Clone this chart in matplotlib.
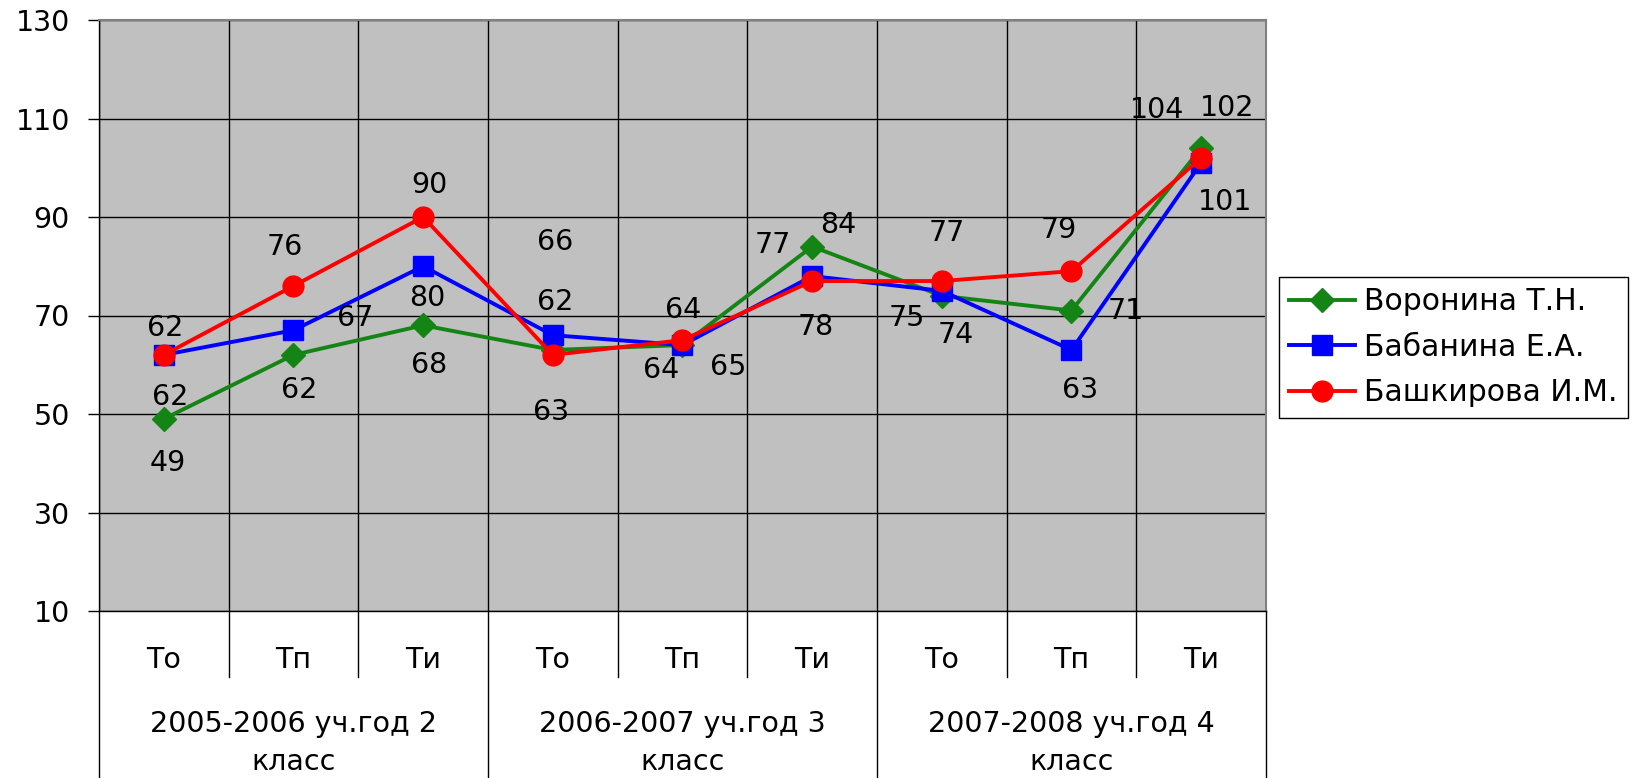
import matplotlib.pyplot as plt
import numpy as np

plt.rcParams['font.family'] = ['DejaVu Sans']

categories = ['То', 'Тп', 'Ти', 'То', 'Тп', 'Ти', 'То', 'Тп', 'Ти']
groups = ['2005-2006 уч.год 2\nкласс', '2006-2007 уч.год 3\nкласс', '2007-2008 уч.год 4\nкласс']
names = ['Воронина Т.Н.', 'Бабанина Е.А.', 'Башкирова И.М.']
voronina = [49, 62, 68, 63, 64, 84, 74, 71, 104]
babanina = [62, 67, 80, 66, 64, 78, 75, 63, 101]
bashkirova = [62, 76, 90, 62, 65, 77, 77, 79, 102]

# label placement (pixels, x right / y down) copied from the excel picture
off_v = [(4, 44), (6, 35), (6, 40), (-2, 62), (1, -35), (26, -22), (14, 39), (54, 0), (-44, -38)]
off_b = [(6, 42), (62, -12), (4, 32), (2, -93), (-21, 25), (4, 51), (-35, 27), (9, 40), (24, 39)]
off_r = [(1, -27), (-9, -39), (6, -32), (2, -53), (46, 27), (-39, -36), (5, -48), (-13, -41), (26, -50)]

fig = plt.figure(figsize=(16.4, 7.78), dpi=100)
ax = fig.add_axes([99/1640, 1-611/778, (1266-99)/1640, (611-20)/778])
ax.set_facecolor('#c0c0c0')

x = np.arange(len(categories))
series = [(voronina, '#148514', 'D', 12, off_v),
          (babanina, '#0000ff', 's', 15, off_b),
          (bashkirova, '#ff0000', 'o', 15, off_r)]
for (vals, col, mk, ms, offs), nm in zip(series, names):
    ax.plot(x, vals, color=col, lw=2.8, marker=mk, ms=ms, mec=col, mfc=col, label=nm, zorder=3)
    for xi, v, (dx, dy) in zip(x, vals, offs):
        ax.annotate(str(v), (xi, v), xytext=(dx, -dy), textcoords='offset pixels',
                    ha='center', va='center', fontsize=20.5, zorder=5)

ax.set_xlim(-0.5, len(categories) - 0.5)
ax.set_ylim(10, 130)
ax.set_yticks(np.arange(10, 131, 20))
ax.tick_params(axis='y', labelsize=20.5, length=8, width=1, pad=13, direction='out')
ax.set_xticks(x)
ax.set_xticklabels([])
ax.tick_params(axis='x', length=0)
ax.set_xticks(np.arange(-0.5, len(categories)), minor=True)
ax.tick_params(axis='x', which='minor', length=0)
ax.grid(True, which='minor', axis='x', color='black', lw=1)
ax.grid(True, which='major', axis='y', color='black', lw=1)
ax.set_axisbelow(True)
for s in ['top', 'right']:
    ax.spines[s].set_color('#808080')
    ax.spines[s].set_linewidth(1.5)
for s in ['left', 'bottom']:
    ax.spines[s].set_color('black')
    ax.spines[s].set_linewidth(1)

# two-level category axis below the plot
tr = ax.get_xaxis_transform()
for xi, c in zip(x, categories):
    ax.text(xi, -0.083, c, transform=tr, ha='center', va='center', fontsize=20.5)
for i, g in enumerate(groups):
    ax.text(3*i + 1, -0.223, g, transform=tr, ha='center', va='center', fontsize=20.5, linespacing=1.45)
for b in np.arange(-0.5, len(categories)):
    if (b + 0.5) % 3 == 0:
        ax.plot([b, b], [0, -0.3], transform=tr, color='black', lw=1, clip_on=False)
    else:
        ax.plot([b, b], [0, -0.112], transform=tr, color='black', lw=1, clip_on=False)

leg = fig.legend(loc='upper left', bbox_to_anchor=(1279/1640, 1-277/778), fontsize=21.5,
                 frameon=True, fancybox=False, edgecolor='black', framealpha=1,
                 handlelength=2.2, handletextpad=0.3, labelspacing=0.55, borderpad=0.35,
                 borderaxespad=0)
leg.get_frame().set_linewidth(1)

fig.savefig('out.png', dpi=100)
